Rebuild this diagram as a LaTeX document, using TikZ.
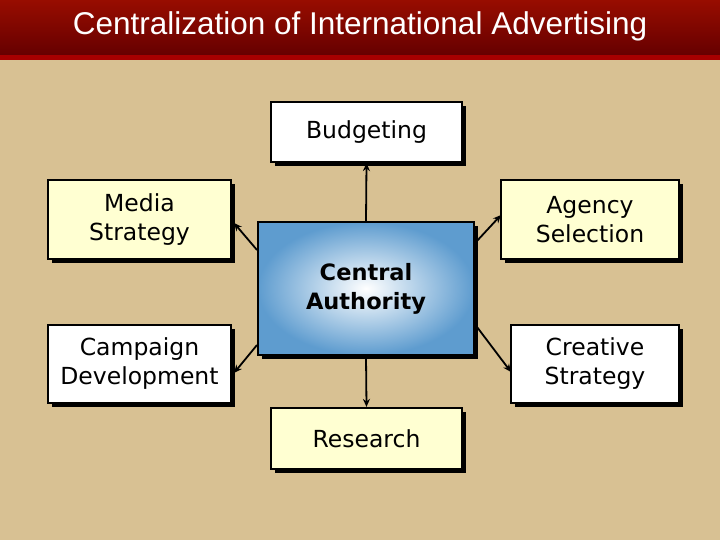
\documentclass[tikz,border=0pt]{standalone}
\usepackage{fontspec}
\setmainfont{DejaVu Sans}
\newfontfamily\titlefont{Liberation Sans}
\usetikzlibrary{arrows.meta}
\definecolor{tan}{HTML}{D8C193}
\definecolor{ly}{HTML}{FFFFD2}
\definecolor{cblue}{HTML}{5E9CCF}
\begin{document}
\begin{tikzpicture}[x=1pt,y=-1pt,
 bx/.style={draw=black,line width=2.2pt,align=center,font=\fontsize{23.5}{29}\selectfont},
 con/.style={line width=1.8pt,-{Stealth[length=8pt,width=7pt]}}]
\fill[tan] (0,0) rectangle (720,540);
\shade[top color=red!55!black!90!orange,bottom color=red!40!black] (0,0) rectangle (720,55);
\fill[red!65!black] (0,55) rectangle (720,60);
\node[text=white,font=\titlefont\fontsize{31.5}{34}\selectfont] (title) at (360,26) {Centralization of International Advertising};
% shadows
\fill (275,106) rectangle (466,166);
\fill (52,184) rectangle (235,263);
\fill (505,184) rectangle (683,263);
\fill (52,329) rectangle (235,407);
\fill (515,329) rectangle (683,407);
\fill (275,412) rectangle (466,473);
\fill (262,226) rectangle (478,359);
\node[bx,fill=white,minimum width=191pt,minimum height=60pt] (bud) at (366.5,132) {Budgeting};
\node[bx,fill=ly,minimum width=183pt,minimum height=79pt] (med) at (139.5,219.5) {Media\\Strategy};
\node[bx,fill=ly,minimum width=178pt,minimum height=79pt] (agy) at (590,219.5) {Agency\\Selection};
\node[bx,fill=white,minimum width=183pt,minimum height=78pt] (cam) at (139.5,364) {Campaign\\Development};
\node[bx,fill=white,minimum width=168pt,minimum height=78pt] (cre) at (595,364) {Creative\\Strategy};
\node[bx,fill=ly,minimum width=191pt,minimum height=61pt] (res) at (366.5,438.5) {Research};
\node[bx,inner color=white,outer color=cblue,minimum width=216pt,minimum height=133pt,font=\bfseries\fontsize{22.5}{29}\selectfont] (cen) at (366,288.5) {Central\\Authority};
\coordinate (c1) at (257,250); \coordinate (m1) at (234,223);
\coordinate (c2) at (476,242); \coordinate (a1) at (501,215);
\coordinate (c3) at (257,345); \coordinate (p1) at (234,373);
\coordinate (c4) at (477,327); \coordinate (r1) at (511,372);
\draw[con] (cen.north) -- (bud.south);
\draw[con] (cen.south) -- (res.north);
\draw[con] (c1) -- (m1);
\draw[con] (c2) -- (a1);
\draw[con] (c3) -- (p1);
\draw[con] (c4) -- (r1);
\end{tikzpicture}
\end{document}
